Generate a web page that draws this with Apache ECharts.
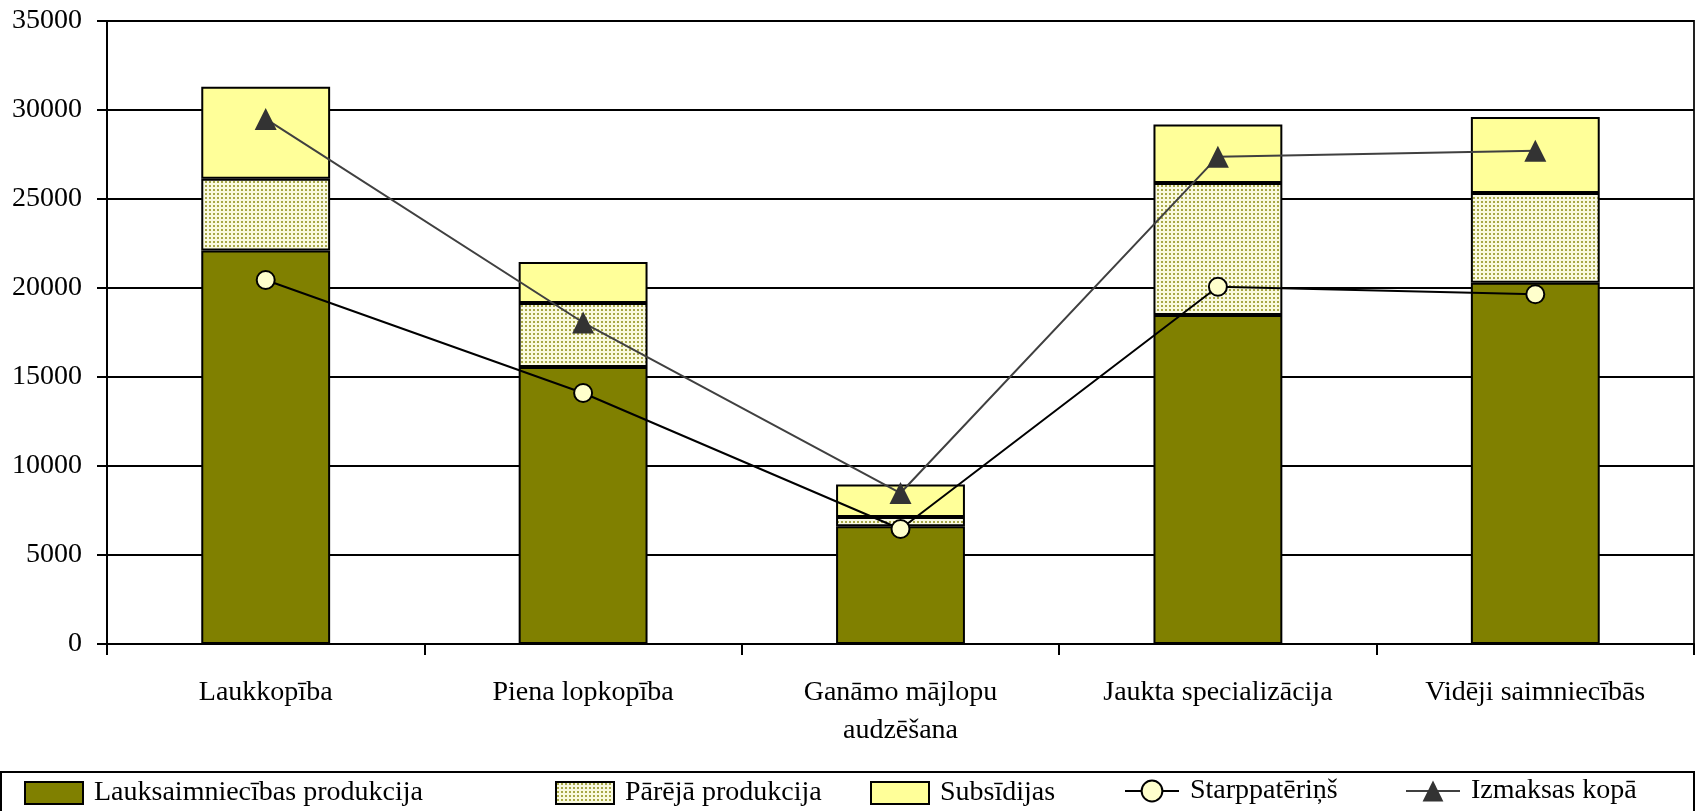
<!DOCTYPE html>
<html>
<head>
<meta charset="utf-8">
<script src="https://cdn.jsdelivr.net/npm/echarts@6/dist/echarts.min.js"></script>
<style>
html,body{margin:0;padding:0;background:#fff;}
#c{width:1697px;height:811px;}
</style>
</head>
<body>
<div id="c"></div>
<script>
const categories = ['Laukkopība', 'Piena lopkopība', 'Ganāmo mājlopu\naudzēšana', 'Jaukta specializācija', 'Vidēji saimniecībās'];
const lauksaimniecibasProdukcija = [22100, 15560, 6620, 18480, 20300];
const parejaProdukcija = [4040, 3600, 520, 7420, 5040];
const subsidijas = [5170, 2300, 1820, 3280, 4270];
const starpaterins = [20450, 14100, 6460, 20070, 19650];
const izmaksasKopa = [29500, 18060, 8480, 27380, 27710];
const yTicks = [0, 5000, 10000, 15000, 20000, 25000, 30000, 35000];

const FONT = '"Liberation Serif", "Times New Roman", serif';

// dotted pattern
const pc = document.createElement('canvas');
pc.width = 4; pc.height = 4;
const pctx = pc.getContext('2d');
pctx.fillStyle = '#FAFAE0';
pctx.fillRect(0, 0, 4, 4);
pctx.fillStyle = '#A8A848';
pctx.fillRect(1, 1, 2, 2);
const dotted = { image: pc, repeat: 'repeat' };

const names = ['Lauksaimniecības produkcija', 'Pārējā produkcija', 'Subsīdijas', 'Starppatēriņš', 'Izmaksas kopā'];
const legendLefts = [24, 555, 870, 1124, 1405];

const chart = echarts.init(document.getElementById('c'), null, { renderer: 'canvas' });

const barStyle = (color) => ({ color: color, borderColor: '#000', borderWidth: 2 });

const legends = names.map((n, i) => {
  const isLine = i >= 3;
  const l = {
    show: true,
    data: [n],
    left: legendLefts[i],
    top: isLine ? 777 : 779,
    padding: 0,
    itemWidth: isLine ? 54 : 58,
    itemHeight: isLine ? 26 : 22,
    itemGap: 0,
    selectedMode: false,
    textStyle: { fontFamily: FONT, fontSize: 28, color: '#000', padding: [0, 0, 0, 6] }
  };
  if (!isLine) l.icon = 'rect';
  return l;
});

chart.setOption({
  animation: false,
  backgroundColor: '#fff',
  grid: {
    left: 107, right: 3, top: 21, bottom: 167,
    show: true, borderColor: '#222', borderWidth: 2, backgroundColor: 'transparent'
  },
  legend: legends,
  graphic: [{
    type: 'rect',
    shape: { x: 1, y: 772, width: 1693, height: 60 },
    style: { fill: 'none', stroke: '#000', lineWidth: 2 },
    silent: true
  }],
  xAxis: {
    type: 'category',
    data: categories,
    axisLine: { lineStyle: { color: '#000', width: 2 } },
    axisTick: { show: true, length: 11, lineStyle: { color: '#000', width: 2 } },
    axisLabel: { fontFamily: FONT, fontSize: 28, color: '#000', margin: 30, lineHeight: 38, interval: 0 },
    splitLine: { show: false }
  },
  yAxis: {
    type: 'value',
    min: 0, max: 35000, interval: 5000,
    axisLine: { show: true, lineStyle: { color: '#000', width: 2 } },
    axisTick: { show: true, length: 10, lineStyle: { color: '#000', width: 2 } },
    axisLabel: { fontFamily: FONT, fontSize: 28, color: '#000', margin: 25,
      formatter: (v) => yTicks.includes(v) ? String(v) : '' },
    splitLine: { show: true, lineStyle: { color: '#000', width: 2 } }
  },
  series: [
    { name: names[0], type: 'bar', stack: 's', data: lauksaimniecibasProdukcija, barWidth: '40.6%', itemStyle: barStyle('#808000') },
    { name: names[1], type: 'bar', stack: 's', data: parejaProdukcija, barWidth: '40.6%', itemStyle: barStyle(dotted) },
    { name: names[2], type: 'bar', stack: 's', data: subsidijas, barWidth: '40.6%', itemStyle: barStyle('#FFFF99') },
    { name: names[3], type: 'line', data: starpaterins, symbol: 'circle', symbolSize: 18, z: 5,
      lineStyle: { color: '#000', width: 2 },
      itemStyle: { color: '#FFFFCC', borderColor: '#000', borderWidth: 2 } },
    { name: names[4], type: 'line', data: izmaksasKopa, symbol: 'triangle', symbolSize: 22, z: 6,
      lineStyle: { color: '#404040', width: 2 },
      itemStyle: { color: '#333333', borderColor: '#333333', borderWidth: 0 } }
  ]
});
</script>
</body>
</html>
